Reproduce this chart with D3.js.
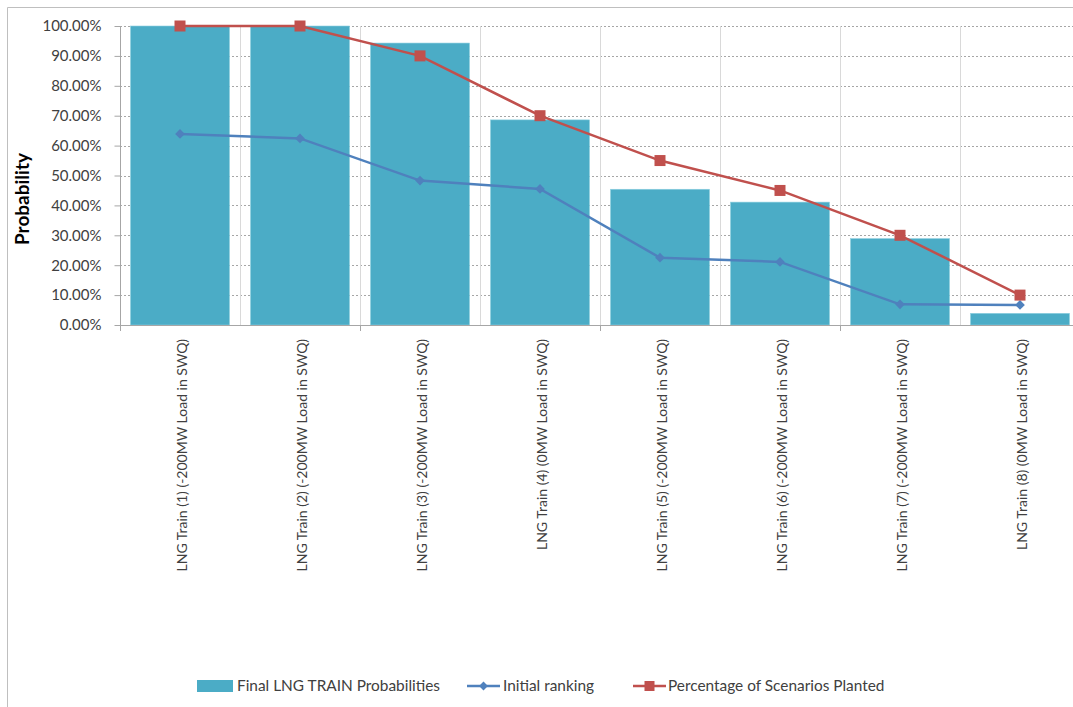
<!DOCTYPE html>
<html>
<head>
<meta charset="utf-8">
<script src="https://cdn.jsdelivr.net/npm/d3@7"></script>
<style>
  html, body { margin: 0; padding: 0; background: #fff; }
  svg { display: block; font-family: Lato, "Open Sans", sans-serif; }
</style>
</head>
<body>
<svg id="chart" width="1073" height="707"></svg>
<script>
// Categories and series
const categories = [
  "LNG Train (1) (-200MW Load in SWQ)",
  "LNG Train (2) (-200MW Load in SWQ)",
  "LNG Train (3) (-200MW Load in SWQ)",
  "LNG Train (4) (0MW Load in SWQ)",
  "LNG Train (5) (-200MW Load in SWQ)",
  "LNG Train (6) (-200MW Load in SWQ)",
  "LNG Train (7) (-200MW Load in SWQ)",
  "LNG Train (8) (0MW Load in SWQ)"
];
const finalProbabilities = [1.00, 1.00, 0.943, 0.686, 0.454, 0.411, 0.289, 0.039];
const initialRanking     = [0.639, 0.624, 0.483, 0.455, 0.225, 0.211, 0.069, 0.067];
const scenariosPlanted   = [1.00, 1.00, 0.90, 0.70, 0.55, 0.45, 0.30, 0.10];
const yTicks = [0, 0.1, 0.2, 0.3, 0.4, 0.5, 0.6, 0.7, 0.8, 0.9, 1.0];
const seriesNames = ["Final LNG TRAIN Probabilities", "Initial ranking", "Percentage of Scenarios Planted"];

const colors = { bar: "#4BACC6", initial: "#4F81BD", planted: "#C0504D" };

const svg = d3.select("#chart");
const m = { left: 120, right: 1080, top: 26, bottom: 325 };

// Outer chart border
svg.append("path")
  .attr("d", "M7.5,707 V7.5 H1073")
  .attr("fill", "none").attr("stroke", "#bfbfbf").attr("stroke-width", 1);

const x = d3.scaleBand().domain(categories).range([m.left, m.right]).paddingInner(0.175).paddingOuter(0.0875);
const xEdges = d3.scaleBand().domain(categories).range([m.left, m.right]).padding(0);
const y = d3.scaleLinear().domain([0, 1]).range([m.bottom, m.top]);

// Horizontal dotted gridlines
svg.append("g").selectAll("line").data(yTicks.filter(d => d > 0)).join("line")
  .attr("x1", m.left).attr("x2", m.right)
  .attr("y1", d => Math.round(y(d)) + 0.5).attr("y2", d => Math.round(y(d)) + 0.5)
  .attr("stroke", "#a6a6a6").attr("stroke-width", 1).attr("stroke-dasharray", "2,2");

// Vertical gridlines at category boundaries
svg.append("g").selectAll("line").data(categories.slice(1)).join("line")
  .attr("x1", d => xEdges(d) + 0.5).attr("x2", d => xEdges(d) + 0.5)
  .attr("y1", m.top).attr("y2", m.bottom)
  .attr("stroke", "#d9d9d9").attr("stroke-width", 1);

// Bars
svg.append("g").selectAll("rect").data(categories).join("rect")
  .attr("x", d => x(d))
  .attr("width", x.bandwidth())
  .attr("y", (d, i) => y(finalProbabilities[i]))
  .attr("height", (d, i) => y(0) - y(finalProbabilities[i]))
  .attr("fill", colors.bar)
  .attr("stroke", "#8fd0e0").attr("stroke-width", 0.6);

// Y axis
const yAxis = d3.axisLeft(y).tickValues(yTicks).tickFormat(d3.format(".2%")).tickSize(6).tickPadding(13);
const gy = svg.append("g").attr("transform", `translate(${m.left + 0.5},0)`).call(yAxis);
gy.select(".domain").attr("stroke", "#a6a6a6").attr("d", `M0,${m.top}V${m.bottom}`);
gy.selectAll(".tick line").attr("stroke", "#a6a6a6");
gy.selectAll(".tick text").attr("fill", "#404040").style("font-size", "15px").style("font-family", "Lato, sans-serif");

// X axis baseline and tick marks (every second boundary)
svg.append("line").attr("x1", m.left).attr("x2", m.right)
  .attr("y1", m.bottom + 0.5).attr("y2", m.bottom + 0.5).attr("stroke", "#a6a6a6");
const tickCats = categories.filter((d, i) => i % 2 === 0);
svg.append("g").selectAll("line").data(tickCats).join("line")
  .attr("x1", d => xEdges(d) + 0.5).attr("x2", d => xEdges(d) + 0.5)
  .attr("y1", m.bottom).attr("y2", m.bottom + 6).attr("stroke", "#a6a6a6");

// Rotated category labels
svg.append("g").selectAll("text").data(categories).join("text")
  .attr("transform", d => `translate(${xEdges(d) + xEdges.bandwidth() / 2 + 7},${m.bottom + 14}) rotate(-90)`)
  .attr("text-anchor", "end")
  .attr("fill", "#404040")
  .style("font-size", "14px")
  .text(d => d);

// Y axis title
svg.append("text")
  .attr("transform", `translate(29,199) rotate(-90)`)
  .attr("text-anchor", "middle")
  .attr("font-weight", "bold")
  .style("font-size", "19px")
  .attr("fill", "#000")
  .text("Probability");

// Lines
const cx = d => x(d) + x.bandwidth() / 2;
const lineGen = vals => d3.line().x(d => cx(d)).y((d, i) => y(vals[i]))(categories);

svg.append("path").attr("d", lineGen(initialRanking))
  .attr("fill", "none").attr("stroke", colors.initial).attr("stroke-width", 2.5);
svg.append("g").selectAll("path").data(categories).join("path")
  .attr("d", d3.symbol(d3.symbolDiamond2, 60))
  .attr("transform", (d, i) => `translate(${cx(d)},${y(initialRanking[i])})`)
  .attr("fill", colors.initial);

svg.append("path").attr("d", lineGen(scenariosPlanted))
  .attr("fill", "none").attr("stroke", colors.planted).attr("stroke-width", 2.5);
svg.append("g").selectAll("rect").data(categories).join("rect")
  .attr("x", d => cx(d) - 5.5).attr("y", (d, i) => y(scenariosPlanted[i]) - 5.5)
  .attr("width", 11).attr("height", 11)
  .attr("fill", colors.planted);

// Legend
const lg = svg.append("g").style("font-size", "15.4px").attr("fill", "#404040");
const ly = 686;
lg.append("rect").attr("x", 197).attr("y", ly - 6).attr("width", 36).attr("height", 12).attr("fill", colors.bar);
lg.append("text").attr("x", 237).attr("y", ly + 5).text(seriesNames[0]);

lg.append("line").attr("x1", 467).attr("x2", 500).attr("y1", ly).attr("y2", ly)
  .attr("stroke", colors.initial).attr("stroke-width", 2.5);
lg.append("path").attr("d", d3.symbol(d3.symbolDiamond2, 50))
  .attr("transform", `translate(483.5,${ly})`).attr("fill", colors.initial);
lg.append("text").attr("x", 503).attr("y", ly + 5).text(seriesNames[1]);

lg.append("line").attr("x1", 633).attr("x2", 666).attr("y1", ly).attr("y2", ly)
  .attr("stroke", colors.planted).attr("stroke-width", 2.5);
lg.append("rect").attr("x", 644.5).attr("y", ly - 5).attr("width", 10).attr("height", 10).attr("fill", colors.planted);
lg.append("text").attr("x", 668).attr("y", ly + 5).text(seriesNames[2]);
</script>
</body>
</html>
